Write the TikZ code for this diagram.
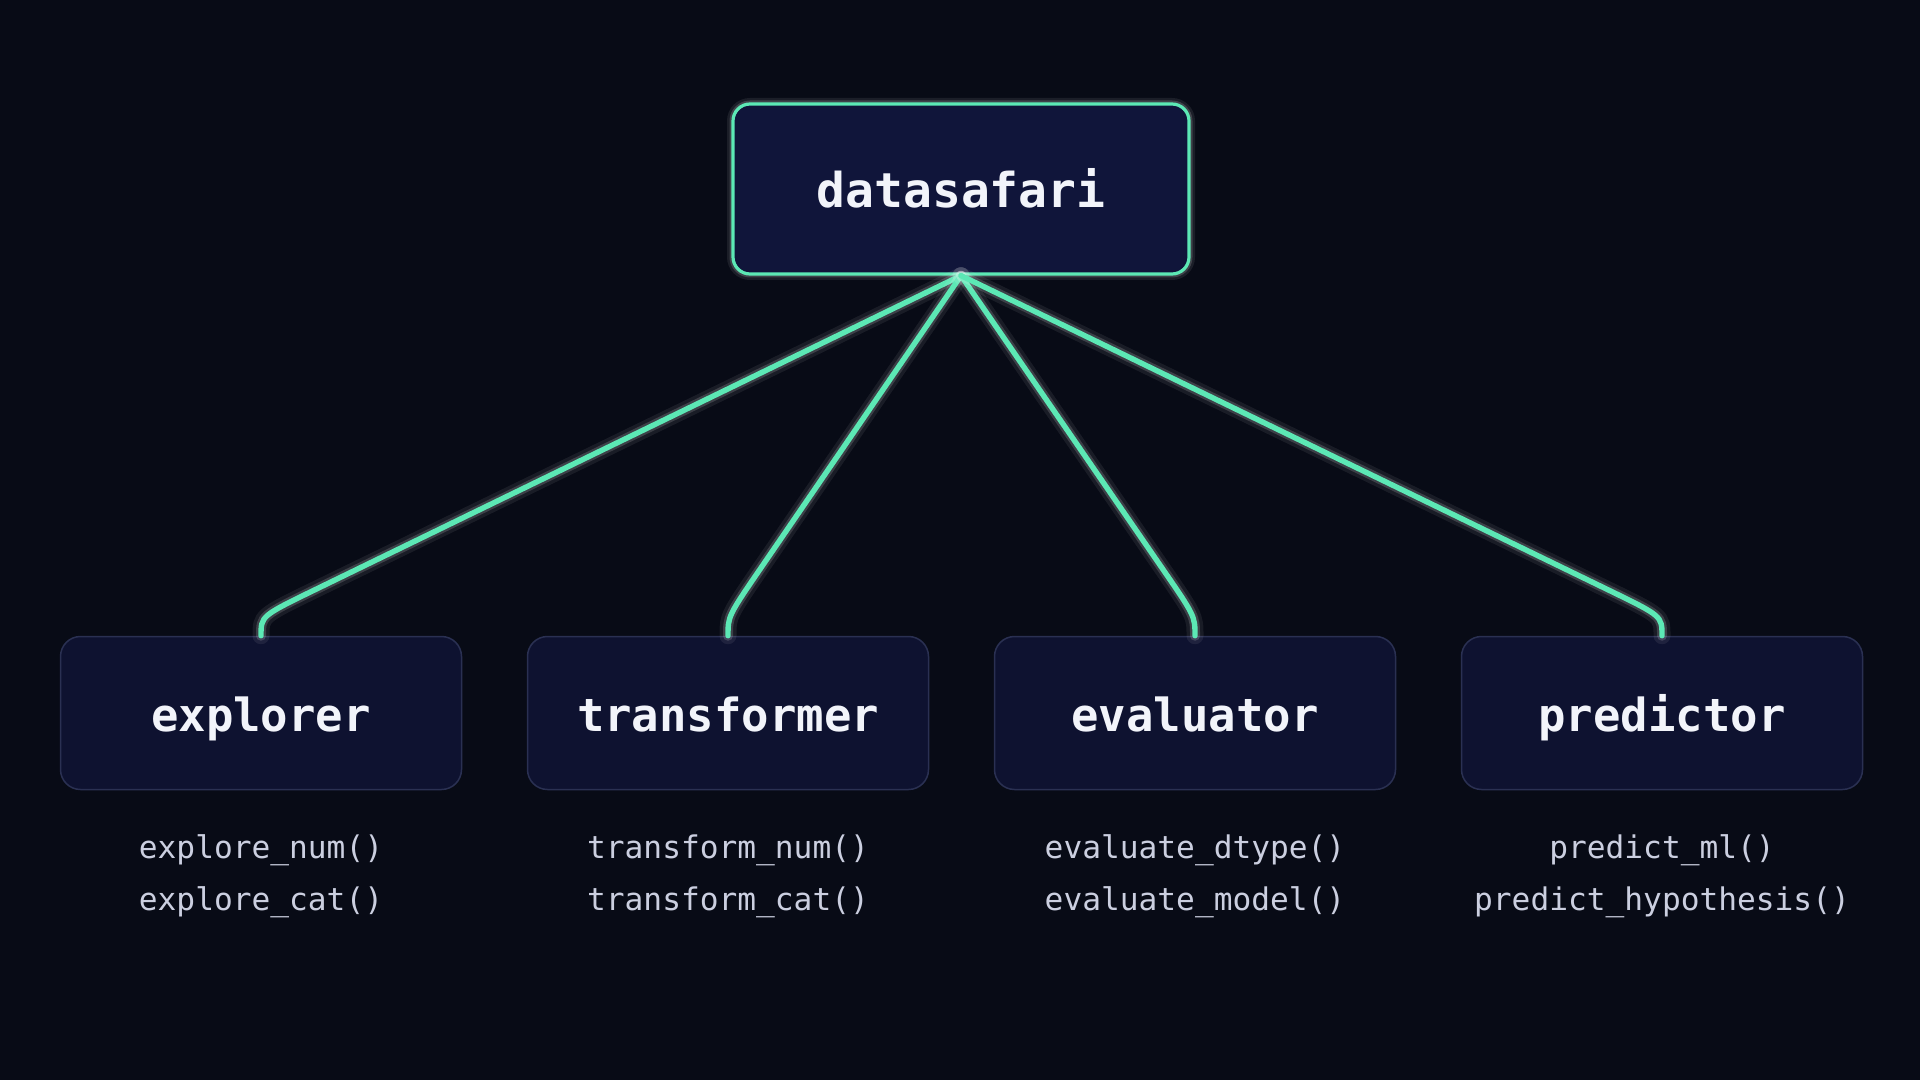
\documentclass[tikz,border=0pt]{standalone}
\usepackage{fontspec}
\setmonofont{DejaVu Sans Mono}
\usetikzlibrary{calc}
\definecolor{bg}{HTML}{080B16}
\definecolor{boxfill}{HTML}{0E1230}
\definecolor{topfill}{HTML}{10153A}
\definecolor{boxline}{HTML}{2A3052}
\definecolor{neon}{HTML}{5CE8B5}
\definecolor{fn}{HTML}{CBCFE0}
\definecolor{lbl}{HTML}{F2F4FA}
\begin{document}
\begin{tikzpicture}[x=0.5pt,y=-0.5pt,
  topbox/.style={draw=neon, line width=1.6pt, fill=topfill, rounded corners=8.5pt,
    minimum width=228pt, minimum height=85pt, inner sep=0pt,
    preaction={draw=white, draw opacity=0.08, line width=6pt, rounded corners=8.5pt},
    preaction={draw=white, draw opacity=0.16, line width=3.5pt, rounded corners=8.5pt}},
  childbox/.style={draw=boxline, line width=0.75pt, fill=boxfill, rounded corners=10pt,
    minimum width=200.5pt, minimum height=76.5pt, inner sep=0pt},
  toplbl/.style={text=lbl, font=\ttfamily\bfseries\fontsize{24pt}{28pt}\selectfont, anchor=base, inner sep=0pt},
  childlbl/.style={text=lbl, font=\ttfamily\bfseries\fontsize{22.8pt}{28pt}\selectfont, anchor=base, inner sep=0pt},
  fnlbl/.style={text=fn, font=\ttfamily\fontsize{15.6pt}{20pt}\selectfont, anchor=base, inner sep=0pt},
  neonline/.style={draw=neon, line width=2.7pt, line cap=round,
    preaction={draw=white, draw opacity=0.07, line width=8.5pt, line cap=round},
    preaction={draw=white, draw opacity=0.16, line width=5pt, line cap=round}}
]
\useasboundingbox[fill=bg] (0,0) rectangle (1920,1080);

% boxes
\node[topbox] (top) at (961,189) {};
\node[childbox] (explorer) at (261,713) {};
\node[childbox] (transformer) at (728,713) {};
\node[childbox] (evaluator) at (1195,713) {};
\node[childbox] (predictor) at (1662,713) {};

% labels
\node[toplbl] (toptext) at (961,208) {datasafari};
\node[childlbl] (exptext) at (261,731) {explorer};
\node[childlbl] (trtext) at (728,731) {transformer};
\node[childlbl] (evtext) at (1195,731) {evaluator};
\node[childlbl] (prtext) at (1662,731) {predictor};

% functions
\node[fnlbl] (fa1) at (261,858) {explore\_num()};
\node[fnlbl] (fa2) at (261,910) {explore\_cat()};
\node[fnlbl] (fb1) at (728,858) {transform\_num()};
\node[fnlbl] (fb2) at (728,910) {transform\_cat()};
\node[fnlbl] (fc1) at (1195,858) {evaluate\_dtype()};
\node[fnlbl] (fc2) at (1195,910) {evaluate\_model()};
\node[fnlbl] (fd1) at (1662,858) {predict\_ml()};
\node[fnlbl] (fd2) at (1662,910) {predict\_hypothesis()};

% connector corners
\coordinate (c1) at (261,616);
\coordinate (c2) at (728,616);
\coordinate (c3) at (1195,616);
\coordinate (c4) at (1662,616);

\foreach \ch/\cc in {explorer/c1, transformer/c2, evaluator/c3, predictor/c4}{
  \draw[neonline] (top.south) -- ($(\cc)!30pt!(top.south)$) .. controls (\cc) .. (\ch.north);
}
\end{tikzpicture}
\end{document}
